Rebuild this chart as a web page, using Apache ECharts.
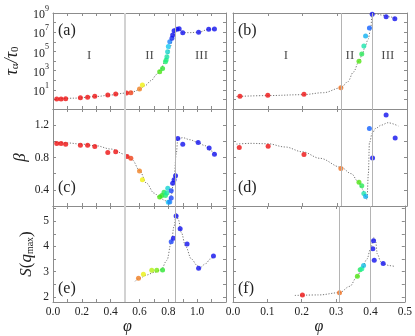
<!DOCTYPE html>
<html>
<head>
<meta charset="utf-8">
<script src="https://cdn.jsdelivr.net/npm/echarts@6/dist/echarts.min.js"></script>
<style>
html, body { margin: 0; padding: 0; background: #fff; }
#chart { width: 415px; height: 336px; }
</style>
</head>
<body>
<div id="chart"></div>
<script>
// ---- data ----
// (a) tau_alpha / tau_0, left set
var phiA = [0.026, 0.056, 0.088, 0.19, 0.24, 0.29, 0.38, 0.435, 0.51, 0.54, 0.60, 0.62, 0.74, 0.76, 0.78, 0.785, 0.79, 0.795, 0.80, 0.81, 0.825, 0.83, 0.84, 0.86, 0.875, 0.90, 1.01, 1.08, 1.12]
var tauA = [1.1, 1.1, 1.17, 1.5, 1.66, 2.1, 2.9, 3.6, 4.7, 5.0, 12, 32, 780, 1700, 8500, 1.3e4, 2.8e4, 9.3e4, 3.2e5, 1e6, 2.3e6, 5e6, 1.4e7, 2e7, 2.3e7, 9e6, 1e7, 2e7, 2.1e7]
var fitPhiA = [0.02, 0.15, 0.30, 0.40, 0.50, 0.56, 0.60, 0.64, 0.68, 0.72, 0.75, 0.77, 0.79, 0.81, 0.83, 0.845, 0.86, 0.875, 0.90, 0.95, 1.01, 1.08, 1.12]
var fitTauA = [1.1, 1.35, 2.0, 2.9, 4.5, 6.5, 11, 28, 90, 400, 1500, 6000, 3e4, 2e5, 2e6, 1.2e7, 2.2e7, 2.3e7, 9e6, 9e6, 1e7, 2e7, 2.2e7]

// (b) tau_alpha / tau_0, right set
var phiB = [0.02, 0.10, 0.204, 0.31, 0.362, 0.37, 0.376, 0.381, 0.392, 0.40, 0.44, 0.465]
var tauB = [2.1, 2.7, 3.4, 16.6, 9300, 5.4e4, 3.6e5, 4e6, 2.8e7, 7.2e8, 4e8, 2.5e8]
var fitPhiB = [0.01, 0.10, 0.20, 0.26, 0.31, 0.33, 0.346, 0.362, 0.372, 0.38, 0.388, 0.395, 0.40, 0.41, 0.43, 0.45, 0.47]
var fitTauB = [2.0, 2.5, 3.1, 5, 16, 70, 700, 9000, 6e4, 3.5e5, 1.8e6, 1.5e7, 7e8, 8e8, 6e8, 4e8, 2.5e8]

// (c) beta, left set
var phiC = [0.026, 0.056, 0.088, 0.19, 0.24, 0.29, 0.38, 0.435, 0.514, 0.54, 0.60, 0.62, 0.74, 0.755, 0.77, 0.78, 0.79, 0.796, 0.80, 0.81, 0.82, 0.82, 0.83, 0.84, 0.85, 0.866, 0.90, 1.007, 1.083, 1.12]
var betaC = [0.973, 0.973, 0.965, 0.953, 0.953, 0.937, 0.863, 0.871, 0.813, 0.79, 0.633, 0.526, 0.31, 0.33, 0.37, 0.33, 0.36, 0.42, 0.247, 0.25, 0.30, 0.39, 0.48, 0.526, 0.575, 1.035, 0.965, 0.985, 0.916, 0.84]
var fitPhiC = [0.0, 0.1, 0.2, 0.3, 0.4, 0.5, 0.55, 0.6, 0.65, 0.7, 0.75, 0.78, 0.80, 0.82, 0.84, 0.855, 0.866, 0.9, 0.95, 1.0, 1.05, 1.1, 1.13]
var fitBetaC = [0.99, 0.98, 0.965, 0.945, 0.905, 0.84, 0.77, 0.64, 0.48, 0.36, 0.29, 0.265, 0.27, 0.33, 0.55, 0.85, 1.03, 1.045, 1.02, 0.99, 0.95, 0.88, 0.83]

// (d) beta, right set
var phiD = [0.018, 0.101, 0.204, 0.31, 0.362, 0.37, 0.376, 0.381, 0.392, 0.401, 0.44, 0.466]
var betaD = [0.924, 0.94, 0.838, 0.665, 0.493, 0.449, 0.354, 0.317, 1.16, 0.793, 1.326, 1.04]
var fitPhiD = [0.01, 0.05, 0.10, 0.15, 0.20, 0.25, 0.31, 0.34, 0.36, 0.372, 0.38, 0.385, 0.389, 0.392, 0.40, 0.41, 0.426, 0.445, 0.475]
var fitBetaD = [0.965, 0.975, 0.97, 0.93, 0.87, 0.79, 0.68, 0.60, 0.50, 0.41, 0.33, 0.28, 0.6, 0.98, 1.1, 1.16, 1.2, 1.23, 1.19]

// (e) S(q_max), left set
var phiE = [0.593, 0.627, 0.685, 0.72, 0.76, 0.82, 0.835, 0.854, 0.882, 0.93, 1.01, 1.113]
var sE = [2.745, 2.90, 3.06, 3.06, 3.07, 4.18, 4.32, 5.2, 4.70, 4.10, 3.14, 3.62]
var fitPhiE = [0.57, 0.60, 0.65, 0.70, 0.75, 0.79, 0.82, 0.84, 0.855, 0.87, 0.89, 0.92, 0.96, 1.0, 1.015, 1.06, 1.09, 1.12]
var fitSE = [2.62, 2.74, 2.87, 2.97, 3.08, 3.45, 4.15, 4.8, 5.3, 5.05, 4.55, 4.0, 3.5, 3.25, 3.14, 3.32, 3.5, 3.62]

// (f) S(q_max), right set
var phiF = [0.202, 0.31, 0.362, 0.37, 0.375, 0.38, 0.407, 0.409, 0.411, 0.437]
var sF = [2.08, 2.17, 2.82, 3.08, 3.12, 3.24, 3.91, 4.22, 3.45, 3.32]
var fitPhiF = [0.18, 0.25, 0.31, 0.34, 0.36, 0.375, 0.39, 0.40, 0.41, 0.415, 0.42, 0.43, 0.44, 0.455, 0.47]
var fitSF = [2.06, 2.08, 2.17, 2.42, 2.78, 3.12, 3.5, 3.9, 4.35, 4.2, 3.7, 3.4, 3.3, 3.24, 3.21]

// regime boundaries and labels
var boundsLeft = [0.5, 0.852]
var boundsRight = [0.309, 0.399]
var regimeNames = ['I', 'II', 'III']
var regimePhiLeft = [0.25, 0.67, 1.03]
var regimePhiRight = [0.152, 0.336, 0.445]
var regimeTau = 4e4

// ---- styling ----
var FONT = '"Liberation Serif", "DejaVu Serif", serif'
var AXIS = '#8c8c8c'
var colLeft = [53, 233], colWidth = [173, 174]
var rowTop = [13, 109, 206], rowHeight = [96, 97, 96]

// point colour goes red -> orange -> yellow -> green -> cyan -> blue with phi
var rampLeft = [[0.52, '#ee1010'], [0.56, '#f07020'], [0.60, '#f08020'], [0.62, '#f0f010'], [0.70, '#a8f010'], [0.75, '#30e010'], [0.785, '#20f080'], [0.80, '#10c8f0'], [0.815, '#2060ff'], [0.83, '#1010ee']]
var rampRight = [[0.25, '#ee1010'], [0.30, '#f07020'], [0.32, '#f07020'], [0.355, '#90f010'], [0.365, '#30e010'], [0.375, '#20f0a0'], [0.381, '#10b0f0'], [0.392, '#1060ff'], [0.40, '#1010ee']]

function hexRgb(h) {
  return [parseInt(h.slice(1, 3), 16), parseInt(h.slice(3, 5), 16), parseInt(h.slice(5, 7), 16)]
}
function rampColor(phi, stops) {
  if (phi <= stops[0][0]) return stops[0][1]
  for (var i = 1; i < stops.length; i++) {
    if (phi <= stops[i][0]) {
      var a = hexRgb(stops[i - 1][1]), b = hexRgb(stops[i][1])
      var t = (phi - stops[i - 1][0]) / (stops[i][0] - stops[i - 1][0])
      return 'rgb(' + [0, 1, 2].map(function (k) { return Math.round(a[k] + (b[k] - a[k]) * t) }).join(',') + ')'
    }
  }
  return stops[stops.length - 1][1]
}
function zip(xs, ys) {
  return xs.map(function (x, i) { return [x, ys[i]] })
}

var panels = [
  { tag: '(a)', col: 0, row: 0, x: phiA, y: tauA, fx: fitPhiA, fy: fitTauA },
  { tag: '(b)', col: 1, row: 0, x: phiB, y: tauB, fx: fitPhiB, fy: fitTauB },
  { tag: '(c)', col: 0, row: 1, x: phiC, y: betaC, fx: fitPhiC, fy: fitBetaC },
  { tag: '(d)', col: 1, row: 1, x: phiD, y: betaD, fx: fitPhiD, fy: fitBetaD },
  { tag: '(e)', col: 0, row: 2, x: phiE, y: sE, fx: fitPhiE, fy: fitSE },
  { tag: '(f)', col: 1, row: 2, x: phiF, y: sF, fx: fitPhiF, fy: fitSF }
]
var tagTop = [23, 180, 281]

var labelStyle = { fontFamily: FONT, fontSize: 11.5, color: '#222' }

function xAxisFor(p, gi, pos) {
  var left = p.col === 0
  var showLab = pos === 'bottom' && p.row === 2
  return {
    type: 'value', gridIndex: gi, position: pos,
    min: 0, max: left ? 1.2 : 0.5, interval: 0.1,
    axisLine: { onZero: false, lineStyle: { color: AXIS, width: 1 } },
    axisTick: { inside: true, length: 3, lineStyle: { color: AXIS } },
    splitLine: { show: false },
    axisLabel: Object.assign({
      show: showLab, margin: 4, interval: 0,
      formatter: function (v) {
        var k = Math.round(v * 10)
        if (left && (k % 2 !== 0 || k >= 12)) return ''
        return (k / 10).toFixed(1)
      }
    }, labelStyle),
    name: showLab ? 'φ' : '', nameLocation: 'middle', nameGap: 17,
    nameTextStyle: { fontFamily: FONT, fontSize: 16, fontStyle: 'italic', color: '#222', padding: left ? [0, 24, 0, 0] : 0 }
  }
}

function yAxisFor(p, gi, pos) {
  var showLab = pos === 'left' && p.col === 0
  var ax = {
    gridIndex: gi, position: pos,
    axisLine: { onZero: false, lineStyle: { color: AXIS, width: 1 } },
    axisTick: { inside: true, length: 3, lineStyle: { color: AXIS } },
    splitLine: { show: false },
    axisLabel: Object.assign({ show: showLab, margin: 4, interval: 0 }, labelStyle),
    nameLocation: 'middle', nameRotate: 90
  }
  if (p.row === 0) {
    ax.type = 'log'; ax.logBase = 10; ax.min = 0.1; ax.max = 1e9; ax.splitNumber = 10
    ax.axisLabel.formatter = function (v) {
      var e = Math.round(Math.log(v) / Math.LN10)
      return (e > 0 && e % 2 === 1) ? '{b|10}{s|' + e + '}' : ''
    }
    ax.axisLabel.rich = {
      b: { fontFamily: FONT, fontSize: 12, color: '#222', padding: [4, 0, 0, 0] },
      s: { fontFamily: FONT, fontSize: 8, color: '#222', verticalAlign: 'top' }
    }
    if (showLab) {
      ax.name = '{t|τ}{s|α}{t|/τ}{s|0}'
      ax.nameGap = 32
      ax.nameTextStyle = {
        rich: {
          t: { fontFamily: FONT, fontSize: 18, fontStyle: 'italic', color: '#222' },
          s: { fontFamily: FONT, fontSize: 11, color: '#222', verticalAlign: 'bottom', padding: [7, 0, 0, 0] }
        }
      }
    }
  } else if (p.row === 1) {
    ax.type = 'value'; ax.min = 0.2; ax.max = 1.4; ax.interval = 0.2
    ax.axisLabel.formatter = function (v) {
      var k = Math.round(v * 10)
      return (k % 4 === 0) ? (k / 10).toFixed(1) : ''
    }
    if (showLab) {
      ax.name = 'β'
      ax.nameGap = 24
      ax.nameTextStyle = { fontFamily: FONT, fontSize: 17, fontStyle: 'italic', color: '#222' }
    }
  } else {
    ax.type = 'value'; ax.min = 1.8; ax.max = 5.6; ax.splitNumber = 8
    ax.axisLabel.formatter = function (v) {
      return Math.abs(v - Math.round(v)) < 1e-6 ? String(Math.round(v)) : ''
    }
    if (showLab) {
      ax.name = '{i|S}{t|(}{i|q}{s|max}{t|)}'
      ax.nameGap = 18
      ax.nameTextStyle = {
        rich: {
          i: { fontFamily: FONT, fontSize: 17, fontStyle: 'italic', color: '#222' },
          t: { fontFamily: FONT, fontSize: 17, color: '#222' },
          s: { fontFamily: FONT, fontSize: 10, color: '#222', verticalAlign: 'bottom', padding: [7, 0, 0, 0] }
        }
      }
    }
  }
  return ax
}

var grids = [], xAxes = [], yAxes = [], series = [], texts = []

panels.forEach(function (p, gi) {
  grids.push({ left: colLeft[p.col], top: rowTop[p.row], width: colWidth[p.col], height: rowHeight[p.row] })
  xAxes.push(xAxisFor(p, gi, 'bottom'), xAxisFor(p, gi, 'top'))
  yAxes.push(yAxisFor(p, gi, 'left'), yAxisFor(p, gi, 'right'))
  var bounds = p.col === 0 ? boundsLeft : boundsRight
  var stops = p.col === 0 ? rampLeft : rampRight

  series.push({
    type: 'line', xAxisIndex: 2 * gi, yAxisIndex: 2 * gi,
    data: zip(p.fx, p.fy), showSymbol: false, smooth: 0.35, smoothMonotone: 'x',
    lineStyle: { color: '#777', width: 1, type: [1.2, 1.6] }, z: 2, silent: true,
    markLine: {
      silent: true, symbol: ['none', 'none'], label: { show: false },
      data: bounds.map(function (b, i) {
        return {
          xAxis: b,
          lineStyle: (p.col === 0 && i === 0)
            ? { color: '#d2d2d2', width: 2, type: 'solid' }
            : { color: '#b4b4b4', width: 1, type: 'solid' }
        }
      })
    }
  })
  series.push({
    type: 'scatter', xAxisIndex: 2 * gi, yAxisIndex: 2 * gi,
    data: zip(p.x, p.y), symbolSize: 5, z: 3,
    itemStyle: { color: function (d) { return rampColor(d.value[0], stops) } }
  })
  if (p.row === 0) {
    var rp = p.col === 0 ? regimePhiLeft : regimePhiRight
    series.push({
      type: 'scatter', xAxisIndex: 2 * gi, yAxisIndex: 2 * gi, silent: true,
      symbolSize: 1, itemStyle: { color: 'rgba(0,0,0,0)' },
      data: regimeNames.map(function (n, i) { return { name: n, value: [rp[i], regimeTau] } }),
      label: { show: true, position: 'inside', formatter: '{b}', fontFamily: FONT, fontSize: 13, color: '#222' }
    })
  }
  texts.push({
    type: 'text', left: colLeft[p.col] + 5, top: tagTop[p.row],
    style: { text: p.tag, font: '16px ' + FONT, fill: '#222' }
  })
})

var chart = echarts.init(document.getElementById('chart'))
chart.setOption({
  backgroundColor: '#fff',
  animation: false,
  grid: grids,
  xAxis: xAxes,
  yAxis: yAxes,
  series: series,
  graphic: texts
})
</script>
</body>
</html>
